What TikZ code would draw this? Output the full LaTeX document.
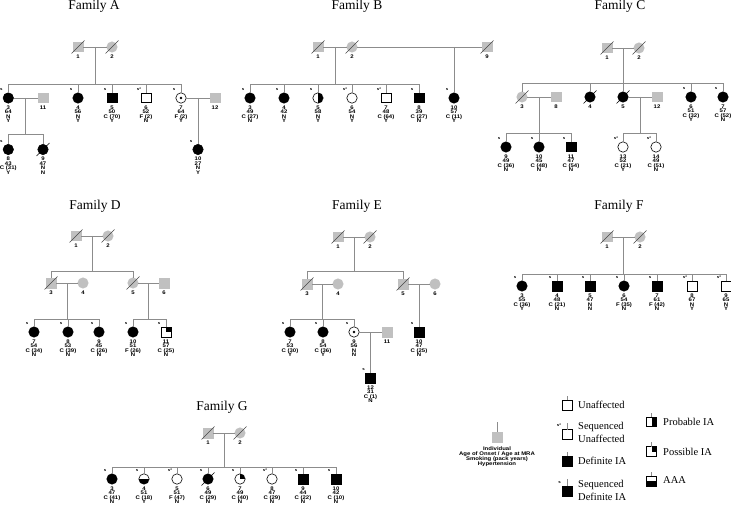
\documentclass[tikz,border=0pt]{standalone}
\usepackage{fontspec}
\setmainfont{Liberation Serif}
\newfontfamily\labfont[FakeStretch=1.15]{Liberation Sans}
\usetikzlibrary{calc}
\newcommand\tightls{\lineskiplimit=-10pt\relax}
\definecolor{lc}{RGB}{140,140,140}
\definecolor{gfill}{RGB}{192,192,192}
\definecolor{slashg}{RGB}{70,70,70}
\tikzset{
  ln/.style={draw=lc, line width=0.6pt},
  base/.style={inner sep=0pt, outer sep=0pt, line width=0.6pt},
  sq/.style={base, rectangle, minimum size=9.6pt},
  ci/.style={base, circle, minimum size=10.4pt},
  aff/.style={draw=black, fill=black},
  unaff/.style={draw=black, fill=white},
  unk/.style={draw=gfill, fill=gfill},
  dot/.style={path picture={\fill[black] (path picture bounding box.center) circle (1.3pt);}},
  rhalf/.style={path picture={\fill[black] (path picture bounding box.north) rectangle (path picture bounding box.south east);}},
  quart/.style={path picture={\fill[black] (path picture bounding box.center) rectangle (path picture bounding box.north east);}},
  bhalf/.style={path picture={\fill[black] (path picture bounding box.west) rectangle (path picture bounding box.south east);}},
  info/.style={anchor=north, inner sep=0pt, align=center, font=\labfont\bfseries\fontsize{5.2}{4.4}\selectfont\tightls},
  smk/.style={inner sep=0pt, font=\labfont\bfseries\fontsize{3.8}{4}\selectfont},
  ftitle/.style={anchor=base, inner sep=0pt, font=\fontsize{13.5}{15}\selectfont},
  leg/.style={anchor=west, inner sep=0pt, align=left, font=\fontsize{10.5}{13}\selectfont},
  legi/.style={anchor=north, inner sep=0pt, align=center, font=\labfont\bfseries\fontsize{5.2}{5}\selectfont\tightls},
}
\newcommand\pers[6][]{%
  \node[#5] (#2) at (#3,#4) {};
  \node[info] (#2i) at (#3,#4+7.6) {#6};
  \if\relax\detokenize{#1}\relax\else\node[smk] (#2s) at (#3-7,#4-8.5) {#1};\fi
}
\newcommand\marr[2]{\draw[ln] (#1) -- (#2); \coordinate (#1m) at ($(#1)!0.5!(#2)$);}
\newcommand\sibs[5]{%
  \coordinate (#1b) at (#1 |- 0,#2);
  \draw[ln] (#1) -- (#1b);
  \draw[ln] (#3 |- #1b) -- (#4 |- #1b);
  \foreach \k in {#5} {\draw[ln] (\k.north) -- (\k |- #1b);}
}
\newcommand\deceased[2][black]{\draw[#1, line width=0.6pt] ([shift={(-6.5,6.5)}]#2.center) -- ([shift={(6.5,-6.5)}]#2.center);}

\begin{document}
\begin{tikzpicture}[x=1pt,y=-1pt]
\useasboundingbox (0,0) rectangle (731,505);

% ---------------- Family A
\node[ftitle] (tA) at (94,9.5) {Family A};
\pers{A1}{78}{47}{sq,unk}{1}
\pers{A2}{112}{47}{ci,unk}{2}
\pers[s]{A3}{8.3}{98}{ci,aff}{3\\64\\N\\Y}
\pers{A11}{43}{98}{sq,unk}{11}
\pers[s]{A4}{78}{98}{ci,aff}{4\\56\\N\\Y}
\pers[s]{A5}{112}{98}{sq,aff}{5\\50\\C (70)\\Y}
\pers[s*]{A6}{146}{98}{sq,unaff}{6\\52\\F (2)\\N}
\pers[s]{A7}{181}{98}{ci,unaff,dot}{7\\64\\F (2)\\Y}
\pers{A12}{215}{98}{sq,unk}{12}
\pers[s]{A8}{8.3}{149.5}{ci,aff}{8\\43\\C (31)\\Y}
\pers{A9}{43}{149.5}{ci,aff}{9\\47\\N\\N}
\pers[s]{A10}{198}{149.5}{ci,aff}{10\\27\\N\\Y}
\deceased[slashg]{A1}\deceased[slashg]{A2}\deceased{A9}
\marr{A1}{A2}\sibs{A1m}{84}{A3}{A7}{A3,A4,A5,A6,A7}
\marr{A3}{A11}\sibs{A3m}{134}{A8}{A9}{A8,A9}
\marr{A7}{A12}\draw[ln] (A7m) -- (A7m |- A10.north);

% ---------------- Family B
\node[ftitle] (tB) at (357,9.5) {Family B};
\pers{B1}{318}{47}{sq,unk}{1}
\pers{B2}{352}{47}{ci,unk}{2}
\pers{B9}{487}{47}{sq,unk}{9}
\pers[s]{B3}{250}{98}{ci,aff}{3\\49\\C (27)\\N}
\pers[s]{B4}{284}{98}{ci,aff}{4\\42\\N\\Y}
\pers[s]{B5}{318}{98}{ci,unaff,rhalf}{5\\58\\N\\Y}
\pers[s*]{B6}{352}{98}{ci,unaff}{6\\54\\N\\Y}
\pers[s*]{B7}{386}{98}{sq,unaff}{7\\48\\C (64)\\Y}
\pers[s]{B8}{419}{98}{sq,aff}{8\\39\\C (27)\\N}
\pers[s]{B10}{454}{98}{ci,aff}{10\\57\\C (11)\\Y}
\deceased[slashg]{B1}\deceased[slashg]{B2}\deceased[slashg]{B9}
\marr{B1}{B2}\sibs{B1m}{84}{B3}{B8}{B3,B4,B5,B6,B7,B8}
\draw[ln] (B2) -- (B9);
\draw[ln] (B10 |- B2) -- (B10.north);

% ---------------- Family C
\node[ftitle] (tC) at (620,9.5) {Family C};
\pers{C1}{607}{48}{sq,unk}{1}
\pers{C2}{639}{48}{ci,unk}{2}
\pers{C3}{522}{97}{ci,unk}{3}
\pers{C8}{556}{97}{sq,unk}{8}
\pers{C4}{590}{97}{ci,aff}{4}
\pers{C5}{623}{97}{ci,aff}{5}
\pers{C12}{657}{97}{sq,unk}{12}
\pers[s]{C6}{691}{97}{ci,aff}{6\\51\\C (32)\\Y}
\pers[s]{C7}{723}{97}{ci,aff}{7\\57\\C (52)\\N}
\pers[s]{C9}{506}{147}{ci,aff}{9\\49\\C (36)\\N}
\pers[s]{C10}{539}{147}{ci,aff}{10\\45\\C (48)\\N}
\pers[s]{C11}{571}{147}{sq,aff}{11\\47\\C (54)\\N}
\pers[s*]{C13}{623}{147}{ci,unaff}{13\\52\\C (21)\\Y}
\pers[s*]{C14}{656}{147}{ci,unaff}{14\\49\\C (51)\\N}
\deceased[slashg]{C1}\deceased[slashg]{C2}\deceased[slashg]{C3}\deceased{C4}\deceased{C5}
\marr{C1}{C2}\sibs{C1m}{83}{C3}{C7}{C3,C4,C5,C6,C7}
\marr{C3}{C8}\sibs{C3m}{133}{C9}{C11}{C9,C10,C11}
\marr{C5}{C12}\sibs{C5m}{133}{C13}{C14}{C13,C14}

% ---------------- Family D
\node[ftitle] (tD) at (95,209.3) {Family D};
\pers{D1}{76}{236}{sq,unk}{1}
\pers{D2}{108}{236}{ci,unk}{2}
\pers{D3}{51}{283}{sq,unk}{3}
\pers{D4}{83}{283}{ci,unk}{4}
\pers{D5}{133}{283}{ci,unk}{5}
\pers{D6}{164}{283}{sq,unk}{6}
\pers[s]{D7}{34}{332}{ci,aff}{7\\54\\C (34)\\N}
\pers[s]{D8}{68}{332}{ci,aff}{8\\53\\C (39)\\N}
\pers[s]{D9}{99}{332}{ci,aff}{9\\45\\C (26)\\N}
\pers[s]{D10}{133}{332}{ci,aff}{10\\51\\F (26)\\N}
\pers[s]{D11}{166}{332}{sq,unaff,quart}{11\\57\\C (25)\\N}
\deceased[slashg]{D1}\deceased[slashg]{D2}\deceased[slashg]{D3}\deceased[slashg]{D5}
\marr{D1}{D2}\sibs{D1m}{271}{D3}{D5}{D3,D5}
\marr{D3}{D4}\sibs{D3m}{319}{D7}{D9}{D7,D8,D9}
\marr{D5}{D6}\sibs{D5m}{319}{D10}{D11}{D10,D11}

% ---------------- Family E
\node[ftitle] (tE) at (357,209.3) {Family E};
\pers{E1}{338}{237}{sq,unk}{1}
\pers{E2}{370}{237}{ci,unk}{2}
\pers{E3}{307}{284}{sq,unk}{3}
\pers{E4}{338}{284}{ci,unk}{4}
\pers{E5}{403}{284}{sq,unk}{5}
\pers{E6}{435}{284}{ci,unk}{6}
\pers[s]{E7}{290}{332}{ci,aff}{7\\53\\C (30)\\Y}
\pers[s]{E8}{323}{332}{ci,aff}{8\\54\\C (36)\\Y}
\pers[s]{E9}{354}{332}{ci,unaff,dot}{9\\56\\N\\N}
\pers{E11}{387}{332}{sq,unk}{11}
\pers[s]{E10}{419}{332}{sq,aff}{10\\47\\C (25)\\N}
\pers[s]{E12}{370.5}{378}{sq,aff}{12\\31\\C (1)\\N}
\deceased[slashg]{E1}\deceased[slashg]{E2}\deceased[slashg]{E3}\deceased[slashg]{E5}
\marr{E1}{E2}\sibs{E1m}{271}{E3}{E5}{E3,E5}
\marr{E3}{E4}\sibs{E3m}{319}{E7}{E9}{E7,E8,E9}
\marr{E9}{E11}\draw[ln] (E9m) -- (E9m |- E12.north);
\marr{E5}{E6}\draw[ln] (E5m) -- (E5m |- E10.north);

% ---------------- Family F
\node[ftitle] (tF) at (619,209.3) {Family F};
\pers{F1}{607}{237}{sq,unk}{1}
\pers{F2}{640}{237}{ci,unk}{2}
\pers[s]{F3}{522}{286}{ci,aff}{3\\55\\C (36)\\Y}
\pers[s]{F4}{557}{286}{sq,aff}{4\\48\\C (21)\\N}
\pers[s]{F5}{590}{286}{sq,aff}{5\\47\\N\\N}
\pers[s]{F6}{624}{286}{ci,aff}{6\\54\\F (35)\\N}
\pers[s]{F7}{657}{286}{sq,aff}{7\\61\\F (42)\\N}
\pers[s*]{F8}{692}{286}{sq,unaff}{8\\67\\N\\Y}
\pers[s*]{F9}{726}{286}{sq,unaff}{9\\65\\N\\Y}
\deceased[slashg]{F1}\deceased[slashg]{F2}
\marr{F1}{F2}\sibs{F1m}{274}{F3}{F9}{F3,F4,F5,F6,F7,F8,F9}

% ---------------- Family G
\node[ftitle] (tG) at (222,410) {Family G};
\pers{G1}{208}{433}{sq,unk}{1}
\pers{G2}{240}{433}{ci,unk}{2}
\pers[s]{G3}{112}{479}{ci,aff}{3\\47\\C (41)\\N}
\pers[s]{G4}{144}{479}{ci,unaff,bhalf}{4\\51\\C (18)\\Y}
\pers[s*]{G5}{177}{479}{ci,unaff}{5\\51\\F (47)\\N}
\pers[s]{G6}{208}{479}{ci,aff}{6\\49\\C (29)\\N}
\pers[s]{G7}{240}{479}{ci,unaff,quart}{7\\49\\C (40)\\N}
\pers[s*]{G8}{272}{479}{ci,unaff}{8\\47\\C (29)\\N}
\pers[s]{G9}{303}{479}{sq,aff}{9\\44\\C (22)\\N}
\pers[s]{G10}{336}{479}{sq,aff}{10\\42\\C (10)\\N}
\deceased[slashg]{G1}\deceased[slashg]{G2}\deceased{G6}
\marr{G1}{G2}\sibs{G1m}{467}{G3}{G10}{G3,G4,G5,G6,G7,G8,G9,G10}

% ---------------- Legend
\node[sq,unk] (L0) at (497,437) {};
\draw[ln] (L0.north) -- ++(0,-10);
\node[legi] (L0t) at (497,447) {Individual\\Age of Onset / Age at MRA\\Smoking (pack years)\\Hypertension};

\node[sq,unaff] (L1) at (567,405) {};
\draw[ln] (L1.north) -- ++(0,-4.5);
\node[leg] (L1t) at (578,405) {Unaffected};

\node[sq,unaff] (L2) at (567,434.5) {};
\draw[ln] (L2.north) -- ++(0,-6.5);
\node[smk] (L2s) at (559,425.5) {s*};
\node[leg] (L2t) at (578,432.5) {Sequenced\\Unaffected};

\node[sq,aff] (L3) at (567,461) {};
\draw[ln] (L3.north) -- ++(0,-4.5);
\node[leg] (L3t) at (578,461) {Definite IA};

\node[sq,aff] (L4) at (567,491) {};
\draw[ln] (L4.north) -- ++(0,-7.5);
\node[smk] (L4s) at (559.5,482) {s};
\node[leg] (L4t) at (578,490.3) {Sequenced\\Definite IA};

\node[sq,unaff,rhalf] (L5) at (651.5,421.7) {};
\draw[ln] (L5.north) -- ++(0,-4);
\node[leg] (L5t) at (663,421.7) {Probable IA};

\node[sq,unaff,quart] (L6) at (651.5,451.5) {};
\draw[ln] (L6.north) -- ++(0,-4.5);
\node[leg] (L6t) at (663,451.7) {Possible IA};

\node[sq,unaff,bhalf] (L7) at (651.5,481) {};
\draw[ln] (L7.north) -- ++(0,-4.5);
\node[leg] (L7t) at (663,480.5) {AAA};
\end{tikzpicture}
\end{document}
